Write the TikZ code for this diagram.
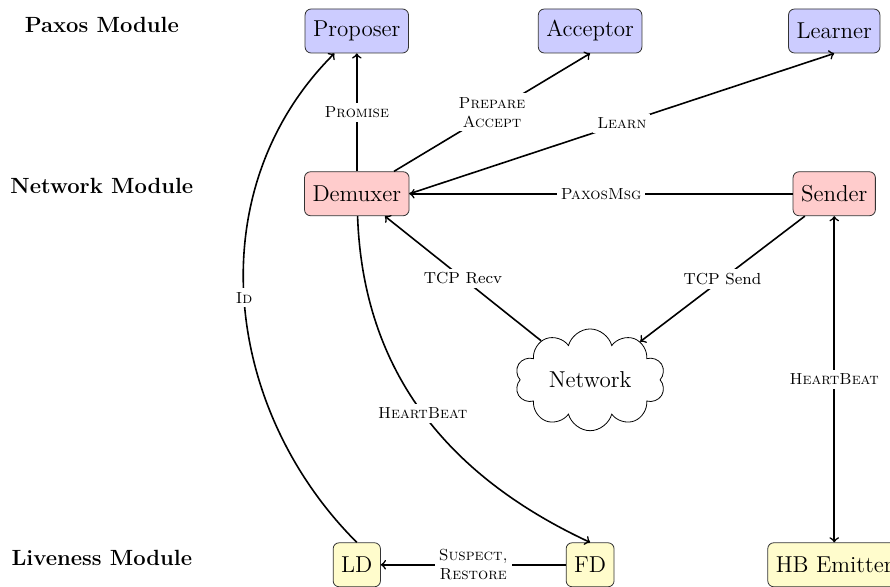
\documentclass[tikz,border=0pt]{standalone}
\usetikzlibrary{shapes.symbols}

\begin{document}
\begin{tikzpicture}
        \tikzstyle{every node} = [font=\fontsize{11.5}{13}\selectfont]
        \tikzstyle{box} = [rectangle, rounded corners=3pt, draw=black!80, inner sep=4pt, minimum height=22pt]
        \tikzstyle{paxosbox} = [box, fill=blue!20]
        \tikzstyle{netbox} = [box, fill=red!20]
        \tikzstyle{livebox} = [box, fill=yellow!20]
        \tikzstyle{lbl} = [fill=white, inner sep=2pt, align=center, font=\fontsize{8}{9.5}\selectfont]
        \tikzstyle{mod} = [anchor=base, font=\fontsize{11}{13}\selectfont\bfseries]
        \useasboundingbox (0,0) rectangle (15.64,10.315);

        \node[mod] (pm) at (1.79,9.735) {Paxos Module};
        \node[mod] (nm) at (1.79,6.906) {Network Module};
        \node[mod] (lm) at (1.79,0.369) {Liveness Module};

        \node[paxosbox] (pro) at (6.27,9.77) {Proposer};
        \node[paxosbox] (acc) at (10.37,9.77) {Acceptor};
        \node[paxosbox] (lea) at (14.66,9.77) {Learner};
        \node[netbox] (dem) at (6.27,6.91) {Demuxer};
        \node[netbox] (sen) at (14.66,6.91) {Sender};
        \node[cloud, draw, cloud puffs=10, aspect=1.5, inner sep=0pt,
              minimum width=2.64cm, minimum height=1.72cm] (net) at (10.37,3.64) {Network};
        \node[livebox] (ld) at (6.27,0.39) {LD};
        \node[livebox] (fd) at (10.37,0.39) {FD};
        \node[livebox] (hb) at (14.66,0.39) {HB Emitter};

        \foreach \from/\to/\txt in {dem/pro/\textsc{Promise}, dem/acc.south/{\textsc{Prepare}\\\textsc{Accept}},
                dem.east/lea.south/\textsc{Learn}, sen/dem/\textsc{PaxosMsg}, net/dem/TCP Recv,
                sen/net/TCP Send, fd/ld/{\textsc{Suspect,}\\\textsc{Restore}}}
            \draw[->, thick] (\from) -- node[lbl] {\txt} (\to);
        \draw[<->, thick] (sen) -- node[lbl] {\textsc{HeartBeat}} (hb);
        \draw[->, thick] (dem) to[out=-88, in=155] node[lbl] {\textsc{HeartBeat}} (fd.north);
        \draw[->, thick] (ld.north) to[out=135, in=-135] node[lbl] {\textsc{Id}} (pro);
\end{tikzpicture}
\end{document}
